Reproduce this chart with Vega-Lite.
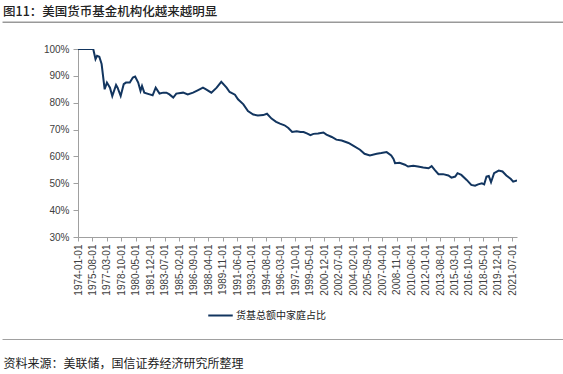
{
  "$schema": "https://vega.github.io/schema/vega-lite/v6.json",
  "width": 439,
  "height": 188,
  "autosize": "none",
  "padding": {"left": 78, "top": 49, "right": 46, "bottom": 137},
  "background": "white",
  "config": {
    "view": {"stroke": null},
    "font": "Liberation Sans",
    "axis": {"labelOverlap": false, "labelBound": false, "labelFlush": false}
  },
  "title": {
    "text": "图11：美国货币基金机构化越来越明显",
    "anchor": "start",
    "frame": "group",
    "dx": -75,
    "offset": 3,
    "font": "Noto Sans CJK SC",
    "fontSize": 12.5,
    "fontWeight": 500,
    "color": "#222222"
  },
  "data": {
    "values": [
      {"date": "1974-01-01", "v": 1.0},
      {"date": "1975-09-01", "v": 1.0},
      {"date": "1975-12-01", "v": 0.9625},
      {"date": "1976-02-01", "v": 0.975},
      {"date": "1976-05-01", "v": 0.971},
      {"date": "1976-08-01", "v": 0.944},
      {"date": "1976-12-01", "v": 0.85},
      {"date": "1977-03-01", "v": 0.875},
      {"date": "1977-07-01", "v": 0.856},
      {"date": "1977-10-01", "v": 0.825},
      {"date": "1978-03-01", "v": 0.866},
      {"date": "1978-05-01", "v": 0.856},
      {"date": "1978-09-01", "v": 0.825},
      {"date": "1979-01-01", "v": 0.869},
      {"date": "1979-04-01", "v": 0.875},
      {"date": "1979-09-01", "v": 0.875},
      {"date": "1980-01-01", "v": 0.894},
      {"date": "1980-04-01", "v": 0.8975},
      {"date": "1980-08-01", "v": 0.875},
      {"date": "1980-11-01", "v": 0.844},
      {"date": "1981-01-01", "v": 0.8625},
      {"date": "1981-04-01", "v": 0.8375},
      {"date": "1981-11-01", "v": 0.831},
      {"date": "1982-03-01", "v": 0.8275},
      {"date": "1982-07-01", "v": 0.856},
      {"date": "1982-12-01", "v": 0.834},
      {"date": "1983-05-01", "v": 0.8375},
      {"date": "1983-09-01", "v": 0.8375},
      {"date": "1984-01-01", "v": 0.831},
      {"date": "1984-06-01", "v": 0.819},
      {"date": "1984-10-01", "v": 0.834},
      {"date": "1985-07-01", "v": 0.8375},
      {"date": "1986-01-01", "v": 0.831},
      {"date": "1986-08-01", "v": 0.8375},
      {"date": "1987-02-01", "v": 0.846},
      {"date": "1987-09-01", "v": 0.856},
      {"date": "1988-01-01", "v": 0.85},
      {"date": "1988-08-01", "v": 0.8375},
      {"date": "1989-03-01", "v": 0.856},
      {"date": "1989-09-01", "v": 0.8775},
      {"date": "1990-04-01", "v": 0.856},
      {"date": "1990-08-01", "v": 0.84},
      {"date": "1991-03-01", "v": 0.83},
      {"date": "1991-07-01", "v": 0.8125},
      {"date": "1992-02-01", "v": 0.794},
      {"date": "1992-08-01", "v": 0.769},
      {"date": "1993-03-01", "v": 0.756},
      {"date": "1993-09-01", "v": 0.7525},
      {"date": "1994-04-01", "v": 0.754},
      {"date": "1994-09-01", "v": 0.759},
      {"date": "1995-03-01", "v": 0.741},
      {"date": "1995-09-01", "v": 0.729},
      {"date": "1996-02-01", "v": 0.722},
      {"date": "1996-08-01", "v": 0.716},
      {"date": "1997-01-01", "v": 0.706},
      {"date": "1997-06-01", "v": 0.691},
      {"date": "1997-12-01", "v": 0.694},
      {"date": "1998-05-01", "v": 0.691},
      {"date": "1998-09-01", "v": 0.691},
      {"date": "1999-02-01", "v": 0.685},
      {"date": "1999-06-01", "v": 0.679},
      {"date": "1999-10-01", "v": 0.684},
      {"date": "2000-04-01", "v": 0.685},
      {"date": "2000-11-01", "v": 0.689},
      {"date": "2001-03-01", "v": 0.681},
      {"date": "2001-10-01", "v": 0.6725},
      {"date": "2002-04-01", "v": 0.6625},
      {"date": "2002-11-01", "v": 0.659},
      {"date": "2003-08-01", "v": 0.65},
      {"date": "2004-02-01", "v": 0.64},
      {"date": "2004-11-01", "v": 0.625},
      {"date": "2005-05-01", "v": 0.61},
      {"date": "2005-12-01", "v": 0.604},
      {"date": "2006-09-01", "v": 0.61},
      {"date": "2007-03-01", "v": 0.6125},
      {"date": "2007-10-01", "v": 0.616},
      {"date": "2008-04-01", "v": 0.604},
      {"date": "2008-07-01", "v": 0.591},
      {"date": "2008-09-01", "v": 0.575},
      {"date": "2009-03-01", "v": 0.576},
      {"date": "2009-10-01", "v": 0.569},
      {"date": "2010-02-01", "v": 0.5625},
      {"date": "2010-09-01", "v": 0.565},
      {"date": "2011-03-01", "v": 0.5625},
      {"date": "2011-10-01", "v": 0.559},
      {"date": "2012-05-01", "v": 0.556},
      {"date": "2012-09-01", "v": 0.564},
      {"date": "2013-01-01", "v": 0.55},
      {"date": "2013-06-01", "v": 0.534},
      {"date": "2013-12-01", "v": 0.534},
      {"date": "2014-07-01", "v": 0.529},
      {"date": "2014-11-01", "v": 0.521},
      {"date": "2015-04-01", "v": 0.525},
      {"date": "2015-07-01", "v": 0.5375},
      {"date": "2015-12-01", "v": 0.531},
      {"date": "2016-07-01", "v": 0.5125},
      {"date": "2017-01-01", "v": 0.494},
      {"date": "2017-06-01", "v": 0.491},
      {"date": "2017-10-01", "v": 0.496},
      {"date": "2018-03-01", "v": 0.5},
      {"date": "2018-06-01", "v": 0.496},
      {"date": "2018-09-01", "v": 0.525},
      {"date": "2018-12-01", "v": 0.5275},
      {"date": "2019-03-01", "v": 0.504},
      {"date": "2019-07-01", "v": 0.5375},
      {"date": "2020-01-01", "v": 0.5475},
      {"date": "2020-06-01", "v": 0.544},
      {"date": "2020-11-01", "v": 0.529},
      {"date": "2021-05-01", "v": 0.516},
      {"date": "2021-08-01", "v": 0.506},
      {"date": "2022-01-01", "v": 0.511}
    ]
  },
  "layer": [
    {
      "mark": {"type": "line", "strokeWidth": 2, "clip": true},
      "encoding": {
        "x": {
          "field": "date",
          "type": "temporal",
          "scale": {"type": "utc", "domain": [{"year": 1974, "month": 1, "date": 1, "utc": true}, {"year": 2022, "month": 1, "date": 1, "utc": true}]},
          "axis": {
            "values": [
              {"year": 1974, "month": 1, "date": 1, "utc": true},
              {"year": 1975, "month": 8, "date": 1, "utc": true},
              {"year": 1977, "month": 3, "date": 1, "utc": true},
              {"year": 1978, "month": 10, "date": 1, "utc": true},
              {"year": 1980, "month": 5, "date": 1, "utc": true},
              {"year": 1981, "month": 12, "date": 1, "utc": true},
              {"year": 1983, "month": 7, "date": 1, "utc": true},
              {"year": 1985, "month": 2, "date": 1, "utc": true},
              {"year": 1986, "month": 9, "date": 1, "utc": true},
              {"year": 1988, "month": 4, "date": 1, "utc": true},
              {"year": 1989, "month": 11, "date": 1, "utc": true},
              {"year": 1991, "month": 6, "date": 1, "utc": true},
              {"year": 1993, "month": 1, "date": 1, "utc": true},
              {"year": 1994, "month": 8, "date": 1, "utc": true},
              {"year": 1996, "month": 3, "date": 1, "utc": true},
              {"year": 1997, "month": 10, "date": 1, "utc": true},
              {"year": 1999, "month": 5, "date": 1, "utc": true},
              {"year": 2000, "month": 12, "date": 1, "utc": true},
              {"year": 2002, "month": 7, "date": 1, "utc": true},
              {"year": 2004, "month": 2, "date": 1, "utc": true},
              {"year": 2005, "month": 9, "date": 1, "utc": true},
              {"year": 2007, "month": 4, "date": 1, "utc": true},
              {"year": 2008, "month": 11, "date": 1, "utc": true},
              {"year": 2010, "month": 6, "date": 1, "utc": true},
              {"year": 2012, "month": 1, "date": 1, "utc": true},
              {"year": 2013, "month": 8, "date": 1, "utc": true},
              {"year": 2015, "month": 3, "date": 1, "utc": true},
              {"year": 2016, "month": 10, "date": 1, "utc": true},
              {"year": 2018, "month": 5, "date": 1, "utc": true},
              {"year": 2019, "month": 12, "date": 1, "utc": true},
              {"year": 2021, "month": 7, "date": 1, "utc": true}
            ],
            "tickCount": 100,
            "format": "%Y-%m-%d",
            "labelAngle": -90,
            "labelFontSize": 10,
            "labelColor": "#404040",
            "labelPadding": 3,
            "labelOverlap": false,
            "tickColor": "#a0a0a0",
            "tickSize": 4,
            "domainColor": "#a0a0a0",
            "grid": false,
            "title": "资料来源：美联储，国信证券经济研究所整理",
            "titleFont": "Noto Sans CJK SC",
            "titleFontSize": 12,
            "titleFontWeight": "normal",
            "titleColor": "#222222",
            "titleAnchor": "start",
            "titleAlign": "left",
            "titleBaseline": "middle",
            "titleX": -75,
            "titleY": 126
          }
        },
        "y": {
          "field": "v",
          "type": "quantitative",
          "scale": {"domain": [0.3, 1.0]},
          "axis": {
            "values": [0.3, 0.4, 0.5, 0.6, 0.7, 0.8, 0.9, 1.0],
            "tickCount": 100,
            "format": ".0%",
            "labelFontSize": 10,
            "labelColor": "#404040",
            "labelPadding": 4,
            "labelOverlap": false,
            "ticks": true,
            "tickSize": 5,
            "tickColor": "#a0a0a0",
            "domainColor": "#a0a0a0",
            "grid": false,
            "title": null
          }
        },
        "color": {
          "datum": "货基总额中家庭占比",
          "type": "nominal",
          "scale": {"range": ["#12355f"]},
          "legend": {
            "title": null,
            "orient": "none",
            "legendX": 129,
            "legendY": 253,
            "symbolType": "stroke",
            "symbolSize": 600,
            "symbolStrokeWidth": 2,
            "labelFont": "Noto Sans CJK SC",
            "labelFontSize": 10,
            "labelColor": "#222222",
            "labelOffset": 2
          }
        }
      }
    },
    {
      "data": {"values": [{"a": 1}]},
      "mark": {"type": "rule", "color": "#999999", "strokeWidth": 1.5, "clip": false},
      "encoding": {
        "x": {"datum": -134179200000, "type": "temporal"},
        "x2": {"datum": 1801440000000},
        "y": {"datum": 1.1, "type": "quantitative"}
      }
    },
    {
      "data": {"values": [{"a": 1}]},
      "mark": {"type": "rule", "color": "#a0a0a0", "strokeWidth": 1, "clip": false},
      "encoding": {
        "x": {"datum": -134179200000, "type": "temporal"},
        "x2": {"datum": 1801440000000},
        "y": {"datum": -0.08165, "type": "quantitative"}
      }
    }
  ]
}
